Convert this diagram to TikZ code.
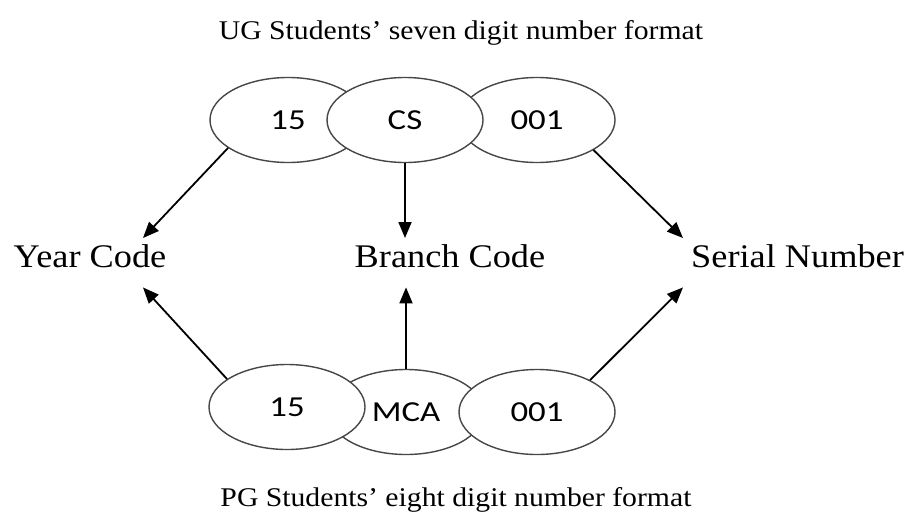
\documentclass[tikz,border=0pt]{standalone}
\usepackage{fontspec}
\setmainfont{Liberation Serif}[FakeStretch=1.1]
\newfontfamily\ovalfont{Carlito}[FakeStretch=1.2]
\usetikzlibrary{shapes.geometric,arrows.meta}
\begin{document}
\begin{tikzpicture}[x=1pt,y=-1pt,
    oval/.style={ellipse,draw=black!72,line width=1.4pt,fill=white,
        minimum width=156pt,minimum height=85pt,inner sep=0pt,
        font=\ovalfont\fontsize{29}{32}\selectfont},
    lbl/.style={anchor=north,inner xsep=3pt,inner ysep=7pt,
        text height=22pt,text depth=13pt,font=\fontsize{33}{38}\selectfont},
    ttl/.style={anchor=base,inner sep=0pt,font=\fontsize{27}{32}\selectfont},
    arr/.style={-{Triangle[length=16pt,width=13pt]},line width=1.8pt}]
    \useasboundingbox (0,0) rectangle (904,514);
    \node[ttl] (ugtitle) at (461,39) {UG Students’ seven digit number format};
    \node[ttl] (pgtitle) at (456,506) {PG Students’ eight digit number format};
    % UG number, CS on top
    \node[oval] (ug15) at (288,120) {15};
    \node[oval] (ug001) at (537,120) {001};
    \node[oval] (ugcs) at (405,120) {CS};
    % PG number, MCA below
    \node[oval] (pgmca) at (406,412) {MCA};
    \node[oval] (pg15) at (287,407) {15};
    \node[oval] (pg001) at (537,412) {001};
    % codes
    \node[lbl] (year) at (90,238) {Year Code};
    \node[lbl] (branch) at (450,238) {Branch Code};
    \node[lbl,anchor=north west,inner xsep=8pt] (serial) at (683,238) {Serial Number};
    \draw[arr] (ug15.-155) -- (year.25);
    \draw[arr] (ugcs.south) -- (ugcs.south |- branch.north);
    \draw[arr] (ug001.-28) -- (serial.north west);
    \draw[arr] (pg15.155) -- (year.-25);
    \draw[arr] (pgmca.north) -- (pgmca.north |- branch.south);
    \draw[arr] (pg001.31) -- (serial.south west);
\end{tikzpicture}
\end{document}
